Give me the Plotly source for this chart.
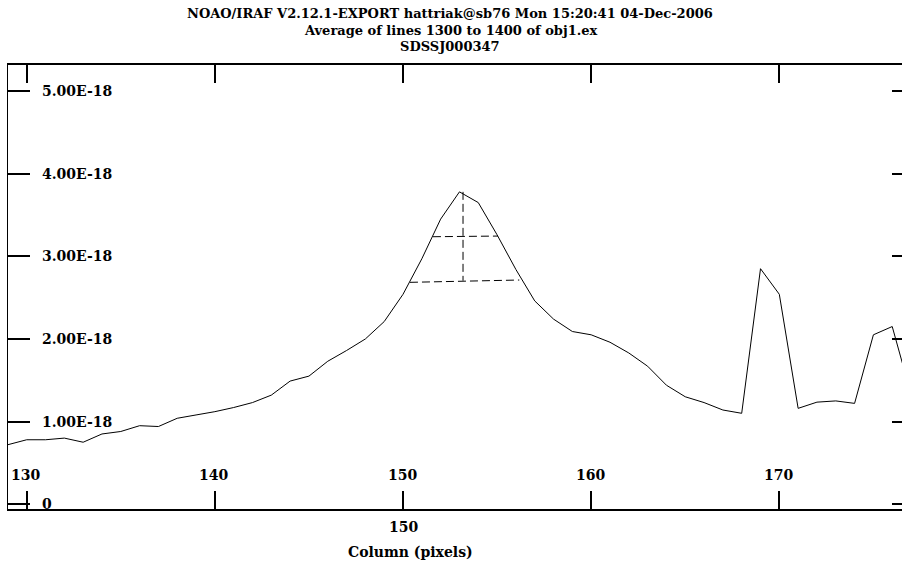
import plotly.graph_objects as go

# ---- data (flux in units of 1e-18) ----
columns = list(range(129, 178))
flux = [0.72, 0.78, 0.78, 0.80, 0.75, 0.85, 0.88, 0.95, 0.94, 1.04,
        1.08, 1.12, 1.17, 1.23, 1.32, 1.49, 1.55, 1.73, 1.86, 2.00,
        2.21, 2.54, 2.97, 3.45, 3.78, 3.65, 3.26, 2.84, 2.46, 2.24,
        2.09, 2.05, 1.96, 1.83, 1.67, 1.44, 1.30, 1.23, 1.14, 1.10,
        2.85, 2.54, 1.16, 1.235, 1.25, 1.22, 2.05, 2.15, 1.33]

# measurement marks (center, FWHM level, continuum)
center_x = [153.19, 153.19]
center_y = [3.78, 2.705]
fwhm_x = [151.59, 155.05]
fwhm_y = [3.237, 3.245]
cont_x = [150.37, 156.18]
cont_y = [2.685, 2.713]

x_ticks = [130, 140, 150, 160, 170]
x_ticklabels = ["130", "140", "150", "160", "170"]
y_ticks = [0, 1, 2, 3, 4, 5]
y_ticklabels = ["0", "1.00E-18", "2.00E-18", "3.00E-18", "4.00E-18", "5.00E-18"]

title_lines = ["NOAO/IRAF V2.12.1-EXPORT hattriak@sb76 Mon 15:20:41 04-Dec-2006",
               "Average of lines 1300 to 1400 of obj1.ex",
               "SDSSJ000347"]
x_title = "Column (pixels)"
lower_label = ("150", 150)

FONT = "DejaVu Serif"

fig = go.Figure()
fig.add_trace(go.Scatter(x=columns, y=flux, mode="lines",
                         line=dict(color="black", width=1), showlegend=False))
for xs, ys in [(center_x, center_y), (fwhm_x, fwhm_y), (cont_x, cont_y)]:
    fig.add_trace(go.Scatter(x=xs, y=ys, mode="lines",
                             line=dict(color="black", width=1, dash="8px,4px"),
                             showlegend=False))
# invisible trace for the right-side y axis
fig.add_trace(go.Scatter(x=[columns[0]], y=[flux[0]], yaxis="y2", mode="lines",
                         line=dict(width=0), showlegend=False, hoverinfo="skip"))

x_range = [129.006, 176.52]
y_range = [-0.058, 5.315]

fig.update_layout(
    width=902, height=567,
    margin=dict(l=8, r=0, t=65, b=58),
    paper_bgcolor="white", plot_bgcolor="white",
    xaxis=dict(range=x_range, tickvals=x_ticks, showticklabels=False,
               ticks="inside", ticklen=18, tickwidth=1.5, tickcolor="black",
               showline=True, linewidth=2, linecolor="black", mirror="ticks",
               showgrid=False, zeroline=False),
    yaxis=dict(range=y_range, tickvals=y_ticks, showticklabels=False,
               ticks="inside", ticklen=22, tickwidth=1.5, tickcolor="black",
               showline=True, linewidth=1, linecolor="black",
               showgrid=False, zeroline=False),
    yaxis2=dict(range=y_range, tickvals=y_ticks, showticklabels=False,
                overlaying="y", side="right",
                ticks="inside", ticklen=10, tickwidth=2, tickcolor="black",
                showline=False, showgrid=False, zeroline=False),
)

ann = []
# title lines
for i, (t, py) in enumerate(zip(title_lines, [13, 30, 46])):
    ann.append(dict(text=t, xref="paper", yref="paper",
                    x=(450 - 8) / 894, y=(509 - py) / 444,
                    xanchor="center", yanchor="middle", showarrow=False,
                    font=dict(family=FONT, size=13, color="black", weight="bold")))
# y tick labels (inside, right of ticks)
for v, lab in zip(y_ticks, y_ticklabels):
    ann.append(dict(text=lab, xref="paper", yref="y", x=0, y=v,
                    xanchor="left", yanchor="middle", xshift=32, showarrow=False,
                    font=dict(family=FONT, size=14, color="black", weight="bold")))
# x tick labels (inside, above bottom axis)
for v, lab in zip(x_ticks, x_ticklabels):
    ann.append(dict(text=lab, xref="x", yref="paper", x=v, y=(509 - 475) / 444,
                    xanchor="center", yanchor="middle", xshift=-1, showarrow=False,
                    font=dict(family=FONT, size=14, color="black", weight="bold")))
# label below axis
ann.append(dict(text=lower_label[0], xref="x", yref="paper", x=lower_label[1],
                y=(509 - 527) / 444, xanchor="center", yanchor="middle",
                showarrow=False,
                font=dict(family=FONT, size=14, color="black", weight="bold")))
ann.append(dict(text=x_title, xref="paper", yref="paper", x=(410 - 8) / 894,
                y=(509 - 552) / 444, xanchor="center", yanchor="middle",
                showarrow=False,
                font=dict(family=FONT, size=14, color="black", weight="bold")))
fig.update_layout(annotations=ann)

fig.write_html("out.html")
